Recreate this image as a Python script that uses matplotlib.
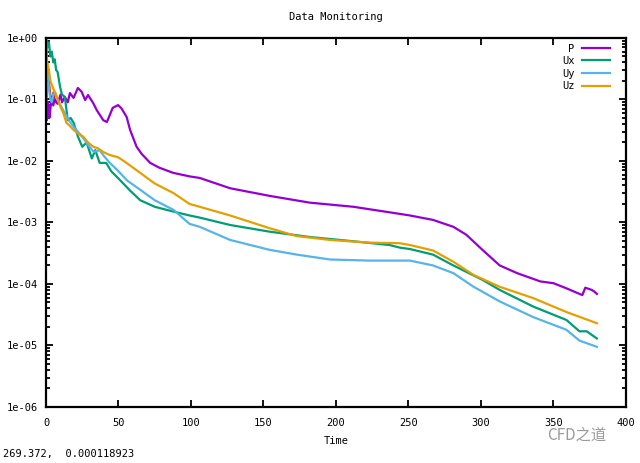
import matplotlib
matplotlib.use("Agg")
import matplotlib.pyplot as plt
from matplotlib.ticker import LogLocator, NullFormatter, FixedLocator

# residual histories
t_p = [0, 0.5, 1.4, 2.3, 3, 4, 5, 6, 8, 10, 11, 13, 15, 16.5, 19, 22, 24.6, 27, 29, 32.6,
       35, 39.5, 42, 46, 49.7, 52, 55.6, 58, 62.5, 66, 71.9, 78, 87.8, 99.3, 106, 127,
       154.5, 182, 212, 244, 251, 267, 281, 290, 301, 313, 325, 341, 350, 359, 368, 370,
       372, 376.5, 378, 380]
p = [1.0, 0.046, 0.09, 0.05, 0.07, 0.11, 0.08, 0.1, 0.085, 0.12, 0.09, 0.11, 0.09, 0.127,
     0.106, 0.154, 0.133, 0.098, 0.118, 0.087, 0.067, 0.046, 0.043, 0.073, 0.081, 0.072,
     0.052, 0.032, 0.017, 0.013, 0.0093, 0.0078, 0.0064, 0.0056, 0.0053, 0.0036, 0.0027,
     0.0021, 0.0018, 0.00138, 0.0013, 0.0011, 0.00085, 0.00063, 0.00036, 0.0002, 0.00015,
     0.00011, 0.000103, 0.000085, 0.000069, 0.000066, 0.000087, 0.00008, 0.000076, 0.000069]

t_ux = [0, 1, 2, 3, 4, 5, 6, 7, 8, 9.7, 11, 13, 15, 17, 19, 22, 25, 28, 31.6, 34, 37,
        41.5, 45, 51, 58, 65, 75, 88, 99, 106, 127, 154, 182, 210, 237, 244, 251, 267,
        281, 301, 313, 336, 359, 368, 373, 380]
ux = [1.0, 0.7, 0.85, 0.5, 0.6, 0.4, 0.45, 0.3, 0.28, 0.16, 0.12, 0.11, 0.046, 0.05,
      0.042, 0.025, 0.017, 0.02, 0.011, 0.015, 0.0093, 0.0093, 0.0068, 0.0049, 0.0033,
      0.0023, 0.0018, 0.0015, 0.0013, 0.0012, 0.00091, 0.00071, 0.00058, 0.0005, 0.00043,
      0.00039, 0.00037, 0.0003, 0.0002, 0.000117, 0.00008, 0.000043, 0.000026, 0.000017,
      0.000017, 0.000013]

t_uy = [0, 1, 2, 3, 4, 5, 6, 8, 10, 13, 16, 19, 22, 26, 30, 33, 37, 40, 44, 49, 56, 65,
        75, 88, 99, 106, 127, 154, 173, 196, 223, 244, 251, 267, 281, 295, 313, 336, 359,
        368, 380]
uy = [0.5, 0.3, 0.15, 0.1, 0.09, 0.12, 0.13, 0.1, 0.08, 0.06, 0.045, 0.036, 0.03, 0.023,
      0.017, 0.014, 0.015, 0.012, 0.0093, 0.0072, 0.0048, 0.0034, 0.0023, 0.0016, 0.00095,
      0.00085, 0.00052, 0.00036, 0.0003, 0.00025, 0.00024, 0.00024, 0.00024, 0.0002,
      0.00015, 0.00009, 0.000052, 0.000029, 0.000018, 0.000012, 0.0000095]

t_uz = [0, 0.5, 2, 3, 5, 7, 8, 10, 12, 14, 16, 19, 22, 25.6, 29, 32.6, 36, 39.5, 44, 49.7,
        55, 65, 75, 88, 99, 106, 127, 154, 173, 196, 223, 244, 251, 267, 281, 295, 313,
        336, 359, 380]
uz = [1.0, 0.44, 0.3, 0.2, 0.15, 0.12, 0.1, 0.076, 0.06, 0.042, 0.038, 0.032, 0.028, 0.025,
      0.02, 0.017, 0.016, 0.014, 0.0125, 0.0115, 0.0095, 0.0064, 0.0043, 0.003, 0.002,
      0.0018, 0.0013, 0.00081, 0.0006, 0.00052, 0.00047, 0.00046, 0.00043, 0.00035,
      0.00023, 0.00014, 0.00009, 0.000059, 0.000035, 0.000023]

# short extra trace visible at the very start
t_k = [0, 1, 2, 3, 4, 5, 6, 7]
k = [0.9, 0.35, 0.2, 0.12, 0.09, 0.13, 0.1, 0.09]

labels = ["P", "Ux", "Uy", "Uz"]
colors = ["#9400d3", "#009e73", "#56b4e9", "#e69f00"]

mono = "DejaVu Sans Mono"
fig = plt.figure(figsize=(6.4, 4.63), dpi=100)
ax = fig.add_axes([0.0719, 0.121, 0.906, 0.797])

ax.plot(t_k, k, color="#e51e10", lw=1.4)
for (tt, yy), lab, c in zip([(t_p, p), (t_ux, ux), (t_uy, uy), (t_uz, uz)], labels, colors):
    ax.plot(tt, yy, color=c, lw=1.6, label=lab)

ax.set_yscale("log")
ax.set_xlim(0, 400)
ax.set_ylim(1e-6, 1)
ax.xaxis.set_major_locator(FixedLocator(range(0, 401, 50)))
ax.yaxis.set_minor_locator(LogLocator(base=10, subs=range(2, 10), numticks=20))
ax.yaxis.set_minor_formatter(NullFormatter())
ax.set_yticks([10.0 ** e for e in range(-6, 1)])
ax.set_yticklabels(["1e-06", "1e-05", "1e-04", "1e-03", "1e-02", "1e-01", "1e+00"],
                   family=mono, fontsize=7.5)
ax.set_xticklabels([str(v) for v in range(0, 401, 50)], family=mono, fontsize=7.5)
ax.tick_params(which="both", direction="in", top=True, right=True, width=1.3)
ax.tick_params(axis="x", which="major", length=5, pad=8)
ax.tick_params(axis="y", which="major", length=5, pad=6)
ax.tick_params(which="minor", length=3)
for s in ax.spines.values():
    s.set_linewidth(1.6)

ax.set_title("Data Monitoring", family=mono, fontsize=7.5, pad=13)
ax.set_xlabel("Time", family=mono, fontsize=7.5, labelpad=6)

leg = ax.legend(loc="upper right", bbox_to_anchor=(0.9724, 0.985), markerfirst=False,
                frameon=False, prop={"family": mono, "size": 7.5}, handlelength=2.7,
                labelspacing=0.25, borderaxespad=0, borderpad=0, handletextpad=0.7)

fig.text(0.005, 0.012, "269.372,  0.000118923", family=mono, fontsize=7.5)
fig.text(0.855, 0.05, "CFD之道", family=["Noto Sans CJK SC", "DejaVu Sans"],
         fontsize=11, color="#9a9a9a")

fig.savefig("out.png", dpi=100)
